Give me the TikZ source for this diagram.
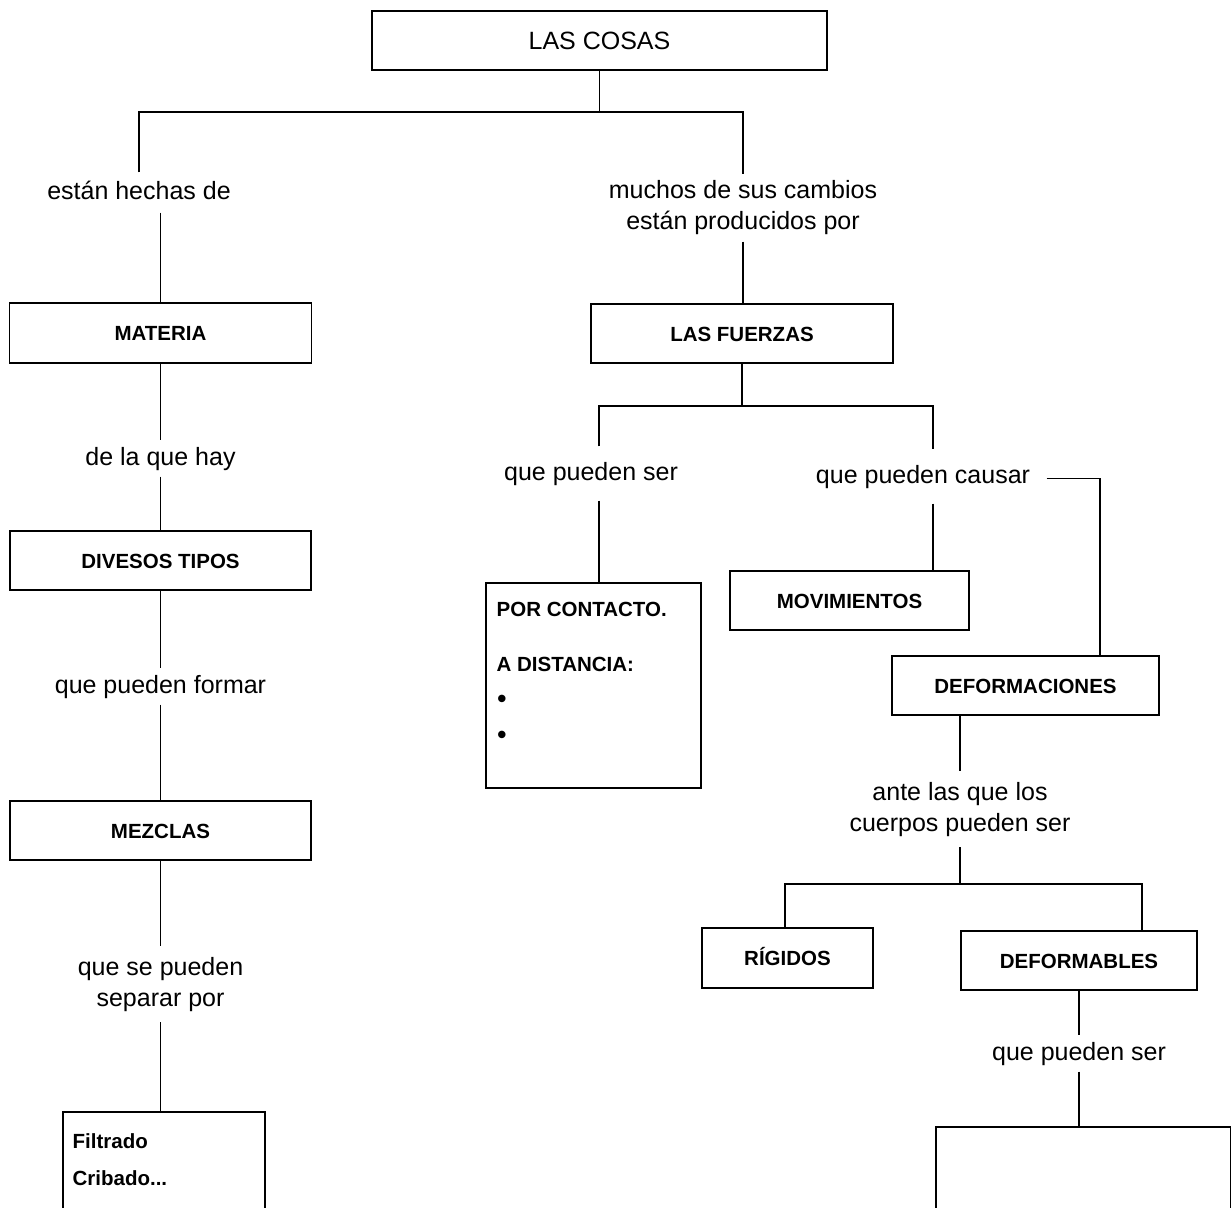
\documentclass[tikz,border=0pt]{standalone}
\usepackage{fontspec}
\setmainfont{Liberation Sans}

\tikzset{
  caja/.style={draw, line width=1.4pt, inner sep=0pt, text height=15pt, text depth=0pt,
    font=\fontsize{20.5}{24}\selectfont\bfseries},
  enlace/.style={inner xsep=0pt, inner ysep=6pt, text height=18pt, text depth=5pt,
    font=\fontsize{25}{31}\selectfont},
  enlacedos/.style={inner xsep=0pt, inner ysep=10pt, align=center,
    font=\fontsize{25}{31}\selectfont},
  dentro/.style={anchor=base west, inner sep=0pt, font=\fontsize{20.5}{24}\selectfont\bfseries},
  bala/.style={anchor=base, inner sep=0pt, font=\fontsize{26}{30}\selectfont\bfseries}
}

\begin{document}
\begin{tikzpicture}[x=1pt, y=-1pt, line width=1.3pt]
  \useasboundingbox (0,0) rectangle (1231,1207);
  \fill[white] (0,0) rectangle (1231,1207);
  \clip (0,0) rectangle (1231,1207);

  % cajas
  \node[caja, minimum width=455pt, minimum height=59pt, text height=18pt,
    font=\fontsize{25}{31}\selectfont] (cosas) at (599.5,40.5) {LAS COSAS};
  \node[caja, minimum width=302pt, minimum height=60pt] (materia) at (160.5,333) {MATERIA};
  \node[caja, minimum width=301pt, minimum height=59pt] (tipos) at (160.5,560.5) {DIVESOS TIPOS};
  \node[caja, minimum width=301pt, minimum height=59pt] (mezclas) at (160.5,830.5) {MEZCLAS};
  \node[caja, minimum width=202pt, minimum height=150pt] (filtrado) at (164,1187) {};
  \node[caja, minimum width=302pt, minimum height=59pt] (fuerzas) at (742,333.5) {LAS FUERZAS};
  \node[caja, minimum width=215pt, minimum height=205pt] (contacto) at (593.5,685.5) {};
  \node[caja, minimum width=239pt, minimum height=59pt] (movim) at (849.5,600.5) {MOVIMIENTOS};
  \node[caja, minimum width=267pt, minimum height=59pt] (deform) at (1025.5,685.5) {DEFORMACIONES};
  \node[caja, minimum width=171pt, minimum height=60pt] (rigidos) at (787.5,958) {RÍGIDOS};
  \node[caja, minimum width=236pt, minimum height=59pt] (deformables) at (1079,960.5) {DEFORMABLES};
  \node[caja, minimum width=295pt, minimum height=150pt] (vacia) at (1083.5,1202) {};

  % textos de las cajas abiertas
  \node[dentro] (pc) at (496,616) {POR CONTACTO.};
  \node[dentro] (ad) at (496,671) {A DISTANCIA:};
  \node[bala] (bala1) at (502,707) {•};
  \node[bala] (bala2) at (502,743) {•};
  \node[dentro] (filt) at (72,1148) {Filtrado};
  \node[dentro] (crib) at (72,1185) {Cribado...};

  % enlaces
  \node[enlace, inner ysep=8pt] (hechas) at (139,192.5) {están hechas de};
  \node[enlacedos, inner ysep=6pt] (muchos) at (743,207.7) {muchos de sus cambios\\están producidos por};
  \node[enlace] (hay) at (160.5,458.5) {de la que hay};
  \node[enlace] (formar) at (160.5,686.5) {que pueden formar};
  \node[enlacedos] (separar) at (160.5,984.2) {que se pueden\\separar por};
  \node[enlace, inner ysep=15pt] (ser1) at (591,473.5) {que pueden ser};
  \node[enlace, inner ysep=15pt] (causar) at (923,476.5) {que pueden causar};
  \node[enlacedos] (ante) at (960,809.2) {ante las que los\\cuerpos pueden ser};
  \node[enlace] (ser2) at (1079,1053.5) {que pueden ser};

  \coordinate (split1) at (600,112);
  \coordinate (split2) at (743,406);
  \coordinate (split3) at (960,884);

  % lineas
  \draw (cosas.south) -- (cosas.south |- split1);
  \draw (hechas.north) |- (split1) -| (muchos.north);
  \draw (hechas.south -| materia.north) -- (materia.north);
  \draw (materia) -- (hay) -- (tipos) -- (formar) -- (mezclas) -- (separar);
  \draw (separar.south) -- (separar.south |- filtrado.north);

  \draw (muchos.south) -- (muchos.south |- fuerzas.north);
  \draw (fuerzas.south) -- (fuerzas.south |- split2);
  \draw ([xshift=8pt]ser1.north) |- (split2) -| ([xshift=10pt]causar.north);
  \draw ([xshift=8pt]ser1.south) -- ([xshift=8pt]ser1.south |- contacto.north);
  \draw ([xshift=10pt]causar.south) -- ([xshift=10pt]causar.south |- movim.north);
  \draw ([xshift=16pt,yshift=-2pt]causar.east) -| ([xshift=74.5pt]deform.north);

  \draw (deform.south -| ante) -- (ante);
  \draw (ante) -- (split3);
  \draw ([xshift=-2.5pt]rigidos.north) |- (split3) -| ([xshift=63pt]deformables.north);
  \draw (deformables.south) -- (deformables.south |- ser2.north);
  \draw (ser2.south) -- (ser2.south |- vacia.north);
\end{tikzpicture}
\end{document}
